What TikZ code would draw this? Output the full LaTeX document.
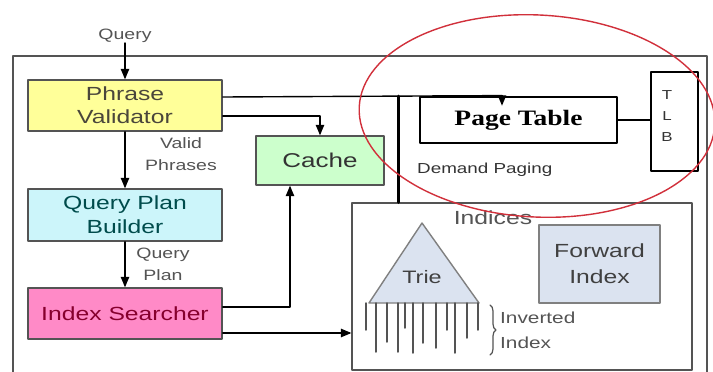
\documentclass[tikz,border=0pt]{standalone}
\usepackage{fontspec}
\setmainfont{Liberation Sans}
\newfontfamily\diagfont[FakeStretch=1.3]{Liberation Sans}
\newfontfamily\tabfont[FakeStretch=1.25]{Liberation Serif}
\usetikzlibrary{arrows,decorations.pathreplacing}
\definecolor{ffff99}{rgb}{1,1,0.6}
\definecolor{ccf4fa}{rgb}{0.8,0.96,0.98}
\definecolor{ff8ac8}{rgb}{1,0.54,0.78}
\definecolor{ccffcc}{rgb}{0.8,1,0.8}
\definecolor{dce3f0}{rgb}{0.86,0.89,0.94}
\definecolor{dd3344}{rgb}{0.82,0.19,0.23}
\definecolor{gg555555}{rgb}{0.33,0.33,0.33}
\newcommand{\fs}[2]{\diagfont\fontsize{#1}{#2}\selectfont}

\begin{document}
\begin{tikzpicture}[line cap=round,line join=round,>=triangle 45,x=1pt,y=-1pt,
  box/.style={draw=gg555555,line width=1.6pt,minimum width=194pt,minimum height=51pt,align=center,inner sep=0pt,font=\fs{19}{23}},
  lbl/.style={align=center,inner sep=0pt,text=gg555555,font=\fs{15}{22}},
  heavy/.style={draw=black,line width=2.8pt,inner sep=0pt},
  ixbox/.style={draw=gray,line width=1.4pt,fill=dce3f0,align=center,inner sep=0pt}]
\useasboundingbox (0,0) rectangle (713,372);
\clip (0,0) rectangle (713,372);
\fill[white] (0,0) rectangle (713,372);
% outer frame
\draw[gg555555,line width=1.6pt] (13,56) rectangle (707,380);
% left column
\node[lbl] (query) at (125,36) {Query};
\node[box,fill=ffff99,text=black!70!yellow!60!black] (pv) at (125,105.5) {Phrase\\Validator};
\node[box,fill=ccf4fa,minimum height=52pt,text=teal!60!black,font=\fs{19}{24}] (qpb) at (125,215) {Query Plan\\Builder};
\node[box,fill=ff8ac8,text=purple!70!black] (is) at (125,313.5) {Index Searcher};
\node[box,fill=ccffcc,minimum width=128pt,minimum height=49pt,text=black!80,font=\fs{20}{24}] (cache) at (320,160.5) {Cache};
\node[lbl] (valid) at (181,154) {Valid\\Phrases};
\node[lbl] (qplan) at (163,264) {Query\\Plan};
\draw[->,line width=1.4pt] (query) -- (pv);
\draw[->,line width=1.4pt] (pv) -- (qpb);
\draw[->,line width=1.4pt] (qpb) -- (is);
\draw[->,line width=1.4pt] ([yshift=-10.5pt]pv.east) -| (cache.north);
\draw[->,line width=1.4pt] ([yshift=6.5pt]is.east) -| ([xshift=-30pt]cache.south);
% indices
\node[draw=gg555555,line width=1.4pt,minimum width=340pt,minimum height=167pt,inner sep=0pt] (ind) at (522,286.5) {};
\node[lbl,font=\fs{19}{23}] (indlbl) at (493,218) {Indices};
\draw[->,line width=1.4pt] ([yshift=-19.5pt]is.east) coordinate (isout) -- (isout -| ind.west);
\coordinate (apex) at (422,223);
\coordinate (tl) at (369,303);
\coordinate (tr) at (479,303);
\filldraw[fill=dce3f0,draw=gray,line width=1.4pt] (apex) -- (tr) -- (tl) -- cycle;
\node[lbl,text=black!75,font=\fs{18}{22}] (trie) at (422,277) {Trie};
\foreach \x/\y in {366/330,376/352,387/342,398/352,405/328,413/353,423/343,436/348,447/330,455/353,467/338,478/330}
  \draw[gg555555,line width=1.5pt] (\x,303) -- (\x,\y);
\draw[gg555555,line width=1.2pt,decorate,decoration={brace,amplitude=6pt}] (490,305) -- (490,355);
\node[lbl,anchor=west,align=left,font=\fs{16}{25}] (inv) at (500,330) {Inverted\\Index};
\node[ixbox,minimum width=121pt,minimum height=78pt,text=black!75,font=\fs{19}{26}] (fwd) at (599.5,264) {Forward\\Index};
% paging
\node[heavy,minimum width=197pt,minimum height=46pt,font=\tabfont\bfseries\fontsize{22}{22}\selectfont] (pt) at (518.5,120) {Page Table};
\node[heavy,minimum width=47pt,minimum height=99pt] (tlb) at (674.5,121.5) {};
\node[lbl,text=black!80,font=\fs{13}{21}] (tlbtxt) at (667,116) {T\\L\\B};
\draw[line width=2.2pt] (pt.east) -- (pt.east -| tlb.west);
\draw[line width=1.4pt] ([yshift=8.5pt]pv.east) -- ([xshift=-16.5pt]pt.north);
\draw[->,line width=1.4pt] ([xshift=-16.5pt]pt.north) -- ++(0,10);
\draw[line width=3.4pt] ([xshift=47pt]ind.north west) -- ++(0,-106);
\node[lbl,anchor=west,text=black!80,font=\fs{14.5}{17}] (demand) at (417,170) {Demand Paging};
% red ring
\draw[dd3344,line width=1.4pt,rotate around={-3:(537,116)}] (537,116) ellipse (178pt and 101pt);
\end{tikzpicture}
\end{document}
